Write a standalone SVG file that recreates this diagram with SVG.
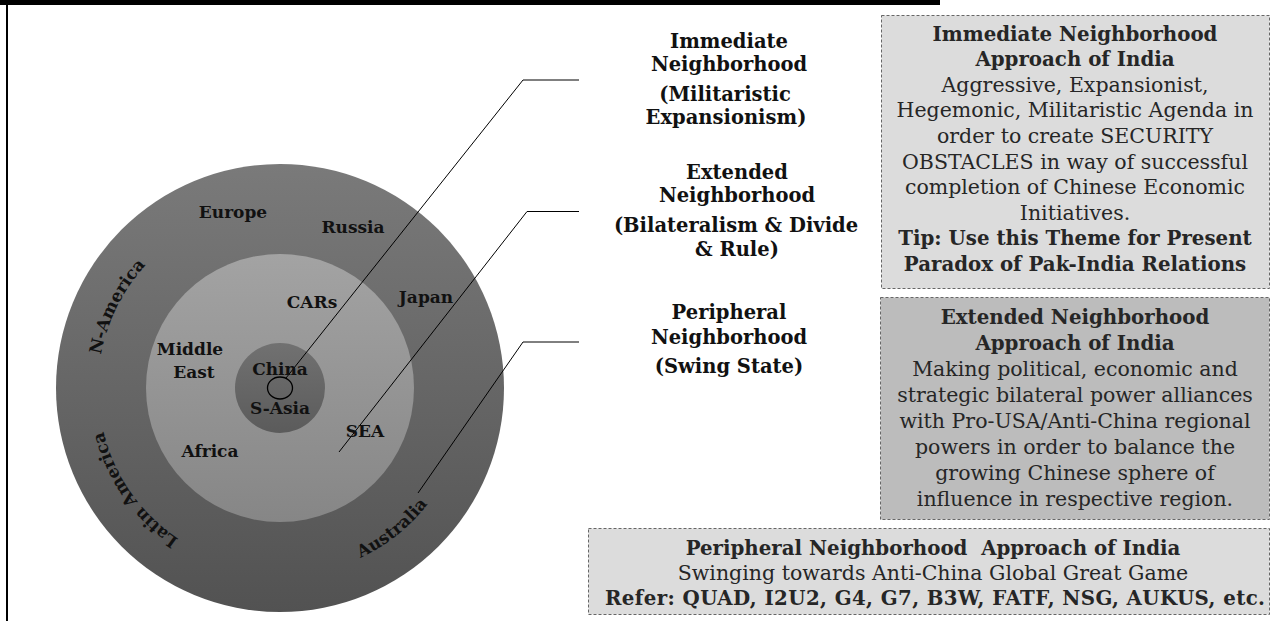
<svg xmlns="http://www.w3.org/2000/svg" width="1273" height="621" viewBox="0 0 1273 621">
<style>
  .lbl { font-family: "DejaVu Serif", "Liberation Serif", serif; font-weight: bold; font-size: 19.5px; fill: #111; text-anchor: middle; }
  .reg { font-family: "DejaVu Serif", "Liberation Serif", serif; font-weight: bold; font-size: 17px; fill: #111; text-anchor: middle; }
  .bt { font-family: "DejaVu Serif", "Liberation Serif", serif; font-weight: bold; font-size: 19.8px; fill: #262626; text-anchor: middle; }
  .bb { font-family: "DejaVu Serif", "Liberation Serif", serif; font-weight: normal; font-size: 20.5px; fill: #262626; text-anchor: middle; }
  .box { stroke: #666; stroke-width: 1; stroke-dasharray: 3 2; }
  .conn { fill: none; stroke: #000; stroke-width: 1; }
</style>
<defs>
  <linearGradient id="gOuter" x1="0" y1="0" x2="0" y2="1">
    <stop offset="0" stop-color="#7a7a7a"/>
    <stop offset="1" stop-color="#525252"/>
  </linearGradient>
  <linearGradient id="gInner" x1="0" y1="0" x2="0" y2="1">
    <stop offset="0" stop-color="#a3a3a3"/>
    <stop offset="1" stop-color="#868686"/>
  </linearGradient>
  <linearGradient id="gCore" x1="0" y1="0" x2="0" y2="1">
    <stop offset="0" stop-color="#717171"/>
    <stop offset="1" stop-color="#5b5b5b"/>
  </linearGradient>
  <path id="arcNA" d="M 98.3 399.1 A 182 182 0 0 1 179.5 236.2"/>
  <path id="arcLA" d="M 248.4 567.2 A 182 182 0 0 1 100.8 356.4"/>
  <path id="arcAU" d="M 308.1 573.9 A 188 188 0 0 0 455.0 456.6"/>
</defs>

<g id="frame">
  <rect x="0" y="0" width="940" height="5" fill="#000"/>
  <rect x="6" y="0" width="2" height="621" fill="#000"/>
</g>

<g id="rings">
  <circle id="ring-outer" cx="280" cy="388" r="224" fill="url(#gOuter)"/>
  <circle id="ring-inner" cx="280" cy="388" r="134" fill="url(#gInner)"/>
  <circle id="ring-core" cx="280" cy="388" r="45" fill="url(#gCore)"/>
  <ellipse id="india-dot" cx="280" cy="388" rx="12.5" ry="11" fill="none" stroke="#000" stroke-width="1.3"/>
</g>

<g id="connectors">
  <polyline class="conn" points="579,80 523,80 286,378"/>
  <polyline class="conn" points="579,211.5 527,211.5 339,452"/>
  <polyline class="conn" points="579,342 523,342 418,493"/>
</g>

<g id="region-labels">
  <text class="reg" x="233" y="218">Europe</text>
  <text class="reg" x="353" y="233">Russia</text>
  <text class="reg" x="312" y="308">CARs</text>
  <text class="reg" x="426" y="303">Japan</text>
  <text class="reg" x="190" y="355">Middle</text>
  <text class="reg" x="194" y="378">East</text>
  <text class="reg" x="280" y="375">China</text>
  <text class="reg" x="280" y="414">S-Asia</text>
  <text class="reg" x="365" y="437">SEA</text>
  <text class="reg" x="210" y="457">Africa</text>
  <text class="reg"><textPath href="#arcNA" startOffset="50%">N-America</textPath></text>
  <text class="reg"><textPath href="#arcLA" startOffset="50%">Latin America</textPath></text>
  <text class="reg"><textPath href="#arcAU" startOffset="50%">Australia</textPath></text>
</g>

<g id="label-immediate">
  <text class="lbl" x="729" y="48">Immediate</text>
  <text class="lbl" x="729" y="71">Neighborhood</text>
  <text class="lbl" x="725" y="101">(Militaristic</text>
  <text class="lbl" x="726" y="124">Expansionism)</text>
</g>

<g id="label-extended">
  <text class="lbl" x="737" y="179">Extended</text>
  <text class="lbl" x="737" y="202">Neighborhood</text>
  <text class="lbl" x="736" y="232">(Bilateralism &amp; Divide</text>
  <text class="lbl" x="737" y="256">&amp; Rule)</text>
</g>

<g id="label-peripheral">
  <text class="lbl" x="729" y="319">Peripheral</text>
  <text class="lbl" x="729" y="344">Neighborhood</text>
  <text class="lbl" x="729" y="373">(Swing State)</text>
</g>

<g id="box-immediate">
  <rect class="box" x="881.5" y="15.5" width="388" height="273" fill="#dcdcdc"/>
  <text class="bt" x="1075" y="40.7">Immediate Neighborhood</text>
  <text class="bt" x="1075" y="66.2">Approach of India</text>
  <text class="bb" x="1075" y="91.8">Aggressive, Expansionist,</text>
  <text class="bb" x="1075" y="117.3">Hegemonic, Militaristic Agenda in</text>
  <text class="bb" x="1075" y="142.9">order to create SECURITY</text>
  <text class="bb" x="1075" y="168.5">OBSTACLES in way of successful</text>
  <text class="bb" x="1075" y="194">completion of Chinese Economic</text>
  <text class="bb" x="1075" y="219.6">Initiatives.</text>
  <text class="bt" x="1075" y="245.1">Tip: Use this Theme for Present</text>
  <text class="bt" x="1075" y="270.7">Paradox of Pak-India Relations</text>
</g>

<g id="box-extended">
  <rect class="box" x="880.5" y="297.5" width="389" height="222" fill="#bcbcbc"/>
  <text class="bt" x="1075" y="324">Extended Neighborhood</text>
  <text class="bt" x="1075" y="350">Approach of India</text>
  <text class="bb" x="1075" y="376">Making political, economic and</text>
  <text class="bb" x="1075" y="402">strategic bilateral power alliances</text>
  <text class="bb" x="1075" y="428">with Pro-USA/Anti-China regional</text>
  <text class="bb" x="1075" y="454">powers in order to balance the</text>
  <text class="bb" x="1075" y="480">growing Chinese sphere of</text>
  <text class="bb" x="1075" y="506">influence in respective region.</text>
</g>

<g id="box-peripheral">
  <rect class="box" x="588.5" y="528.5" width="681" height="86" fill="#dcdcdc"/>
  <text class="bt" x="933" y="555">Peripheral Neighborhood&#160; Approach of India</text>
  <text class="bb" x="933" y="580">Swinging towards Anti-China Global Great Game</text>
  <text class="bt" x="935" y="605" textLength="660" lengthAdjust="spacing">Refer: QUAD, I2U2, G4, G7, B3W, FATF, NSG, AUKUS, etc.</text>
</g>
</svg>
